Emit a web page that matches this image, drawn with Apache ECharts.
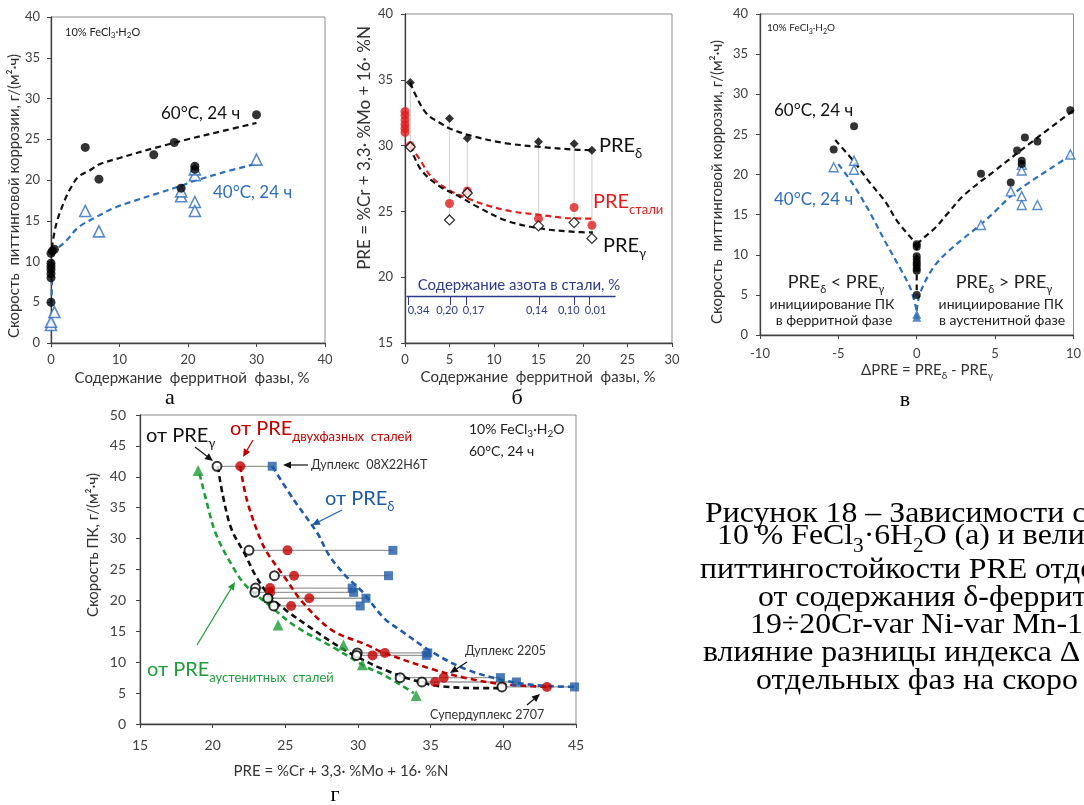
<!DOCTYPE html>
<html><head><meta charset="utf-8">
<script src="https://cdn.jsdelivr.net/npm/echarts@6/dist/echarts.min.js"></script>
<style>html,body{margin:0;padding:0;background:#fff}#c{width:1084px;height:805px}</style>
</head><body><div id="c"></div>
<script>
// ===== Panel а: rate vs ferrite content =====
const a60x = [0,0,0,0,0,0,0,0.2,0.5,5,7,15,18,19,21,21,30];
const a60y = [5,8,8.5,9,9.4,9.8,11,11.3,11.5,24,20.1,23.1,24.6,19,21.7,21.3,28];
const a40x = [0,0,0.5,5,7,19,19,21,21,21,21,30];
const a40y = [2.2,2.6,3.8,16.2,13.7,18,18.6,17.3,16.2,20.6,21.3,22.5];
const aFit60x = [0.1,0.8,2,3,4,5.7,7,10,15,20,25,30];
const aFit60y = [11.6,14.7,17.5,19.2,20.4,21.2,21.9,22.7,23.9,25,26,27];
const aFit40x = [0.05,0.1,0.3,1,2.3,4,6.7,9,12,15,19,21,25,30];
const aFit40y = [4.6,6.1,10.6,11.6,12.6,14.2,15.5,16.5,17.4,18.2,19.3,19.9,20.9,22];
const aXTicks = [0,10,20,30,40];
const aYTicks = [0,5,10,15,20,25,30,35,40];

// ===== Panel б: PRE vs ferrite content =====
const bDeltaX = [0.6,5,7,15,19,21];
const bDeltaY = [34.8,32.05,30.55,30.3,30.15,29.65];
const bSteelX = [0,0,0,0,0,0,0.6,5,7,15,19,21];
const bSteelY = [31.0,31.3,31.6,31.95,32.3,32.6,30.0,25.6,26.55,24.45,25.3,23.95];
const bGammaX = [0.6,5,7,15,19,21];
const bGammaY = [29.9,24.35,26.4,23.9,24.15,22.95];
const bFitDx = [0.6,1,2.4,4,5,7.7,11.4,15.2,19,21.1];
const bFitDy = [34.8,34.1,32.45,31.7,31.3,30.7,30.17,29.9,29.7,29.65];
const bFitSx = [0.6,1.7,3,5,7,9,12,15,18,21.1];
const bFitSy = [30,28.9,27.6,26.6,26.0,25.5,25.0,24.75,24.5,24.45];
const bFitGx = [0.6,1,2,3.9,6.2,8,11.4,15.2,19,21.1];
const bFitGy = [30,29.2,28,26.9,26.1,25.4,24.3,23.7,23.45,23.4];
const nTickX = [0.35,5.05,6.9,15.05,19,20.7];
const nLabelX = [1.5,4.7,7.7,14.8,18.4,21.4];
const nLabels = ['0,34','0,20','0,17','0,14','0,10','0,01'];

// ===== Panel в: rate vs ΔPRE =====
const cBlackX = [-5.3,-4,0,0,0,0,0,0,0,0,0,4.1,6,6.4,6.7,6.7,6.9,7.7,9.8];
const cBlackY = [23.1,26,5,8,8.3,8.7,9,9.4,9.8,11,11.3,20.1,19,23,21.7,21.3,24.6,24.1,28];
const cBlueX = [-5.3,-4,-4,4.1,6,6.7,6.7,6.7,6.7,7.7,9.8];
const cBlueY = [20.9,21.7,20.6,13.7,17.9,21.2,20.5,17.3,16.2,16.2,22.5];
const cBlueZeroX = [0,0];
const cBlueZeroY = [2.2,2.6];
const cFitBLx = [-5.2,-4,-3,-2,-1.25,-0.4,0];
const cFitBLy = [24.3,21.6,19.0,16.6,14.2,12.2,11.3];
const cFitBRx = [0,0.5,1.2,2,3,5,7.5,10];
const cFitBRy = [11.3,12.2,13.4,15.2,17.4,20.5,24.3,28];
const cFitVx = [0,0];
const cFitVy = [11.3,5];
const cFitLLx = [-5,-4,-3,-2,-1,-0.4,0];
const cFitLLy = [21.3,18.6,15.3,11.6,8.1,5.8,3];
const cFitLRx = [0,0.15,0.6,1.25,2,2.9,4.1,5,6,7.1,8.5,10];
const cFitLRy = [3,4.8,6.9,8.9,10.4,11.9,13.8,15.4,17.3,18.9,20.7,22.6];

// ===== Panel г: rate vs PRE =====
const gY     = [41.7,28.1,24.0,22.0,21.3,20.35,19.1,11.5,11.1,7.5,6.8,6.0];
const gGamma = [20.3,22.5,24.25,22.95,22.9,23.8,24.2,29.95,29.9,32.9,34.4,39.9];
const gDual  = [21.9,25.15,25.6,23.95,23.95,26.65,25.4,31.85,31.0,35.9,35.3,43.0];
const gDelta = [24.1,32.4,32.1,29.6,29.7,30.55,30.15,34.8,34.7,39.8,40.9,44.9];
const gAustX = [19.0,23.9,24.5,29.0,30.3,34.0];
const gAustY = [41.0,20.5,16.0,12.8,9.6,4.6];
const gFitAx = [19.1,19.6,20.2,21.2,22.24,23.85,25.7,28.3,30.6,31.8,33.85];
const gFitAy = [40.5,35.8,30.9,26.2,22.5,19.3,15.8,12.4,9.2,7.9,5.0];
const gFitGx = [20.35,20.7,21.3,22.24,22.93,23.85,25,26.6,28.3,29.9,31.8,34.1,35.7,38.7,39.8];
const gFitGy = [41.7,37,31.5,27.4,24.1,20.9,18.5,15.8,13.1,10.9,8.8,6.9,6.1,5.8,5.8];
const gFitDx = [21.9,22.36,23.3,23.85,25,26.15,28.2,30.6,31.8,35.2,37.5,39.8,43];
const gFitDy = [41.7,36.2,29.8,27.35,23.6,19.8,15.2,12.8,11.5,8.8,7.4,6.5,6.0];
const gFitBx = [24.1,25.6,27.2,28.0,29.1,30.3,31.8,32.9,35.2,37.5,39.8,42.1,45];
const gFitBy = [41.7,36.2,30.9,27.35,24.1,21.4,17.1,15.2,11.5,8.8,7.2,6.3,6.0];

const xy = (xs, ys) => xs.map((x, i) => [x, ys[i]]);
const F = 'Lato';
const AX = '#404040';
const RED = '#C00000', RED2 = '#E01E1E', BLUE = '#2F6EBA', DBLUE = '#1F5AA6', GREEN = '#1F9D3A', NAVY = '#2E3A87';

function axisBase(extra, margin, fs) {
  return Object.assign({
    type: 'value', splitLine: { show: false },
    axisLine: { show: true, onZero: false, lineStyle: { color: AX, width: 1.3 } },
    axisTick: { show: true, length: 4, lineStyle: { color: AX } },
    axisLabel: { color: AX, fontSize: fs || 13, fontFamily: F, margin: margin || 10 }
  }, extra);
}
function fit(xi, yi, xs, ys, color, w) {
  return { type: 'line', xAxisIndex: xi, yAxisIndex: yi, data: xy(xs, ys), smooth: 0.35, symbol: 'none',
    silent: true, z: 3, lineStyle: { color, width: w || 2.2, type: [6, 4] } };
}
function sc(xi, yi, xs, ys, symbol, size, item, z) {
  return { type: 'scatter', xAxisIndex: xi, yAxisIndex: yi, data: xy(xs, ys), symbol, symbolSize: size,
    itemStyle: item, z: z || 5, silent: true };
}
function seg(xi, yi, p1, p2, color, w) {
  return { type: 'line', xAxisIndex: xi, yAxisIndex: yi, data: [p1, p2], symbol: 'none', silent: true, z: 1,
    lineStyle: { color, width: w } };
}

const series = [];
// а
series.push(fit(0,0,aFit60x,aFit60y,'#111'));
series.push(fit(0,0,aFit40x,aFit40y,BLUE));
series.push(sc(0,0,a40x,a40y,'triangle',11,{color:'#fff',borderColor:BLUE,borderWidth:1.6}));
series.push(sc(0,0,a60x,a60y,'circle',9,{color:'#000'}));
// б
bDeltaX.forEach((x,i)=>series.push(seg(1,1,[x,bDeltaY[i]],[bGammaX[i],bGammaY[i]],'#d4d4d4',1.2)));
series.push(fit(1,1,bFitDx,bFitDy,'#111'));
series.push(fit(1,1,bFitSx,bFitSy,RED2));
series.push(fit(1,1,bFitGx,bFitGy,'#111'));
series.push(sc(1,1,bSteelX,bSteelY,'circle',9,{color:RED2}));
series.push(sc(1,1,bDeltaX,bDeltaY,'diamond',9,{color:'#000'}));
series.push(sc(1,1,bGammaX,bGammaY,'diamond',10,{color:'#fff',borderColor:'#000',borderWidth:1.3},6));
series.push({type:'scatter',xAxisIndex:4,yAxisIndex:4,data:[],silent:true});
// в
series.push(fit(2,2,cFitBLx,cFitBLy,'#111'));
series.push(fit(2,2,cFitBRx,cFitBRy,'#111'));
series.push(fit(2,2,cFitVx,cFitVy,'#111'));
series.push(fit(2,2,cFitLLx,cFitLLy,BLUE));
series.push(fit(2,2,cFitLRx,cFitLRy,BLUE));
series.push(sc(2,2,cBlueX,cBlueY,'triangle',9,{color:'#fff',borderColor:BLUE,borderWidth:1.4}));
series.push(sc(2,2,cBlueZeroX,cBlueZeroY,'triangle',9,{color:BLUE}));
series.push(sc(2,2,cBlackX,cBlackY,'circle',8,{color:'#000'}));
// г
gY.forEach((y,i)=>series.push(seg(3,3,[gGamma[i],y],[gDelta[i],y],'#9a9a9a',1.3)));
series.push(fit(3,3,gFitAx,gFitAy,GREEN,2.6));
series.push(fit(3,3,gFitGx,gFitGy,'#111',2.6));
series.push(fit(3,3,gFitDx,gFitDy,RED,2.6));
series.push(fit(3,3,gFitBx,gFitBy,DBLUE,2.6));
series.push(sc(3,3,gAustX,gAustY,'triangle',11,{color:GREEN}));
series.push(sc(3,3,gDelta,gY,'rect',9,{color:DBLUE}));
series.push(sc(3,3,gDual,gY,'circle',10,{color:RED}));
series.push(sc(3,3,gGamma,gY,'circle',9,{color:'#fff',borderColor:'#000',borderWidth:2},6));

// ----- graphic helpers -----
function txt(x, y, text, o) {
  return { type: 'text', x, y, silent: true, z: 20,
    style: Object.assign({ text, fontFamily: F, fontSize: 14, fill: '#222', align: 'left', verticalAlign: 'middle' }, o || {}) };
}
function richSub(main, sub, color, fam) {
  const ff = fam || F;
  return {
    m: { fontSize: main, fontFamily: ff, fill: color, verticalAlign: 'bottom', lineHeight: main, padding: [0,0,Math.round(main*0.2),0] },
    s: { fontSize: sub, fontFamily: ff, fill: color, verticalAlign: 'bottom', lineHeight: sub }
  };
}
function rtxt(x, y, text, main, sub, color, o) {
  return txt(x, y, text, Object.assign({ rich: richSub(main, sub, color), fill: color }, o || {}));
}
function vtxt(x, y, text, size, o) {
  const t = txt(x, y, text, Object.assign({ fontSize: size, align: 'center', fill: '#333' }, o || {}));
  t.rotation = Math.PI / 2;
  return t;
}
function arrow(x1, y1, x2, y2, color, w) {
  const a = Math.atan2(y2 - y1, x2 - x1), L = 8, W = 3.6;
  const bx = x2 - L * Math.cos(a), by = y2 - L * Math.sin(a);
  const px = -Math.sin(a) * W, py = Math.cos(a) * W;
  return [
    { type: 'line', silent: true, z: 20, shape: { x1, y1, x2: bx, y2: by }, style: { stroke: color, lineWidth: w || 1.2 } },
    { type: 'polygon', silent: true, z: 20, shape: { points: [[x2, y2], [bx + px, by + py], [bx - px, by - py]] }, style: { fill: color } }
  ];
}

const graphics = [
  // а
  rtxt(65, 34, '{m|10% FeCl}{s|3}{m|·H}{s|2}{m|O}', 11, 8, '#222'),
  txt(161, 114, '60°C, 24 ч', { fontSize: 17, fill: '#111' }),
  txt(213, 193, '40°C, 24 ч', { fontSize: 17, fill: BLUE }),
  txt(192, 378, 'Содержание  ферритной  фазы, %', { fontSize: 15, align: 'center', fill: '#333' }),
  vtxt(14, 196, 'Скорость  питтинговой коррозии, г/(м²·ч)', 15),
  txt(170, 398, 'а', { fontFamily: 'Liberation Serif', fontSize: 22, align: 'center', fill: '#000' }),
  // б
  rtxt(599, 150, '{m|PRE}{s|δ}', 20, 13, '#111'),
  rtxt(593, 206, '{m|PRE}{s|стали}', 20, 13, RED2),
  rtxt(603, 250, '{m|PRE}{s|γ}', 20, 13, '#111'),
  txt(519, 285, 'Содержание азота в стали, %', { fontSize: 15, align: 'center', fill: NAVY }),
  txt(538, 377, 'Содержание  ферритной  фазы, %', { fontSize: 15, align: 'center', fill: '#333' }),
  vtxt(365, 148, 'PRE = %Cr + 3,3· %Mo + 16· %N', 17),
  txt(517, 398, 'б', { fontFamily: 'Liberation Serif', fontSize: 22, align: 'center', fill: '#000' }),
  // в
  rtxt(767, 30, '{m|10% FeCl}{s|3}{m|·H}{s|2}{m|O}', 10, 7, '#222'),
  txt(774, 111, '60°C, 24 ч', { fontSize: 17, fill: '#111' }),
  txt(774, 200, '40°C, 24 ч', { fontSize: 17, fill: BLUE }),
  rtxt(836, 286, '{m|PRE}{s|δ}{m| < PRE}{s|γ}', 18, 11, '#222', { align: 'center' }),
  txt(832, 304, 'инициирование ПК', { fontSize: 14, align: 'center', fill: '#222' }),
  txt(834, 320, 'в ферритной фазе', { fontSize: 14, align: 'center', fill: '#222' }),
  rtxt(1004, 286, '{m|PRE}{s|δ}{m| > PRE}{s|γ}', 18, 11, '#222', { align: 'center' }),
  txt(1001, 304, 'инициирование ПК', { fontSize: 14, align: 'center', fill: '#222' }),
  txt(1002, 320, 'в аустенитной фазе', { fontSize: 14, align: 'center', fill: '#222' }),
  rtxt(927, 373, '{m|ΔPRE = PRE}{s|δ}{m| - PRE}{s|γ}', 15, 10, '#333', { align: 'center' }),
  vtxt(717, 182, 'Скорость  питтинговой коррозии, г/(м²·ч)', 15),
  txt(905, 400, 'в', { fontFamily: 'Liberation Serif', fontSize: 22, align: 'center', fill: '#000' }),
  // г
  rtxt(146, 440, '{m|от PRE}{s|γ}', 20, 13, '#111'),
  rtxt(230, 433, '{m|от PRE}{s|двухфазных  сталей}', 20, 13, RED),
  txt(311, 465, 'Дуплекс  08Х22Н6Т', { fontSize: 12.5, fill: '#333' }),
  rtxt(325, 503, '{m|от PRE}{s|δ}', 20, 13, DBLUE),
  rtxt(469, 432, '{m|10% FeCl}{s|3}{m|·H}{s|2}{m|O}', 14, 10, '#222'),
  txt(469, 451, '60°C, 24 ч', { fontSize: 14, fill: '#222' }),
  rtxt(147, 674, '{m|от PRE}{s|аустенитных  сталей}', 20, 13, GREEN),
  txt(465, 651, 'Дуплекс 2205', { fontSize: 12.5, fill: '#333' }),
  txt(430, 715, 'Супердуплекс 2707', { fontSize: 12.5, fill: '#333' }),
  txt(341, 771, 'PRE = %Cr + 3,3· %Mo + 16· %N', { fontSize: 15, align: 'center', fill: '#333' }),
  vtxt(93, 545, 'Скорость ПК, г/(м²·ч)', 15),
  txt(335, 795, 'г', { fontFamily: 'Liberation Serif', fontSize: 22, align: 'center', fill: '#000' }),
  ...arrow(195, 447, 213, 461, '#111'),
  ...arrow(253, 440, 243, 457, RED),
  ...arrow(308, 465, 283, 465, '#111'),
  ...arrow(342, 510, 312, 525, DBLUE),
  ...arrow(197, 645, 235, 582, GREEN),
  ...arrow(467, 662, 450, 673, '#111'),
  ...arrow(527, 705, 540, 694, '#111')
];

// caption (serif, cut at right edge)
const capLines = [
  'Рисунок 18 – Зависимости с',
  '{t|10 % FeCl}{u|3}{t|·6H}{u|2}{t|O (а) и велич}',
  'питтингостойкости PRE отде',
  'от содержания δ-феррит',
  '19÷20Cr-var Ni-var Mn-1,',
  'влияние разницы индекса Δ',
  'отдельных фаз на скоро'
];
const capX = [705, 717, 700, 758, 750, 703, 756];
capLines.forEach((s, i) => {
  const el = txt(capX[i], 514 + i * 27.9, s, {
    fontFamily: 'Liberation Serif', fontSize: 30, fill: '#000',
    rich: {
      t: { fontFamily: 'Liberation Serif', fontSize: 30, fill: '#000', verticalAlign: 'bottom', lineHeight: 30, padding: [0,0,6,0] },
      u: { fontFamily: 'Liberation Serif', fontSize: 20, fill: '#000', verticalAlign: 'bottom', lineHeight: 20 }
    }
  });
  el.scaleX = 1.06;
  graphics.push(el);
});

const gridStyle = { show: true, borderColor: '#8c8c8c', borderWidth: 1, backgroundColor: 'transparent' };
const option = {
  animation: false,
  backgroundColor: '#fff',
  grid: [
    Object.assign({ left: 51, top: 17, width: 274, height: 326 }, gridStyle),
    Object.assign({ left: 405, top: 14, width: 267, height: 329 }, gridStyle),
    Object.assign({ left: 760, top: 14, width: 320, height: 321 }, gridStyle),
    Object.assign({ left: 140, top: 415, width: 436, height: 309 }, gridStyle),
    { left: 407, top: 295, width: 208, height: 1, show: false }
  ],
  xAxis: [
    axisBase({ gridIndex: 0, min: aXTicks[0], max: aXTicks[aXTicks.length-1], interval: 10 }, 10),
    axisBase({ gridIndex: 1, min: 0, max: 30, interval: 5 }, 10),
    axisBase({ gridIndex: 2, min: -10, max: 10, interval: 5 }, 12),
    axisBase({ gridIndex: 3, min: 15, max: 45, interval: 5 }, 14, 14),
    { gridIndex: 4, type: 'value', min: 0.2, max: 23.6, position: 'bottom', splitLine: { show: false },
      axisLine: { show: true, onZero: false, lineStyle: { color: NAVY, width: 1.3 } },
      axisTick: { show: true, length: 9, customValues: nTickX, lineStyle: { color: NAVY, width: 1 } },
      axisLabel: { customValues: nLabelX, color: NAVY, fontSize: 11, fontFamily: F, margin: 9,
        formatter: v => { let bi = 0; nLabelX.forEach((p, i) => { if (Math.abs(p - v) < Math.abs(nLabelX[bi] - v)) bi = i; }); return nLabels[bi]; } } }
  ],
  yAxis: [
    axisBase({ gridIndex: 0, min: aYTicks[0], max: aYTicks[aYTicks.length-1], interval: 5 }, 11),
    axisBase({ gridIndex: 1, min: 15, max: 40, interval: 5 }, 12),
    axisBase({ gridIndex: 2, min: 0, max: 40, interval: 5 }, 12),
    axisBase({ gridIndex: 3, min: 0, max: 50, interval: 5 }, 14, 14),
    { gridIndex: 4, type: 'value', min: 0, max: 1, show: false }
  ],
  series,
  graphic: { elements: graphics }
};
const chart = echarts.init(document.getElementById('c'), null, { renderer: 'canvas', width: 1084, height: 805 });
chart.setOption(option);
</script>
</body></html>
